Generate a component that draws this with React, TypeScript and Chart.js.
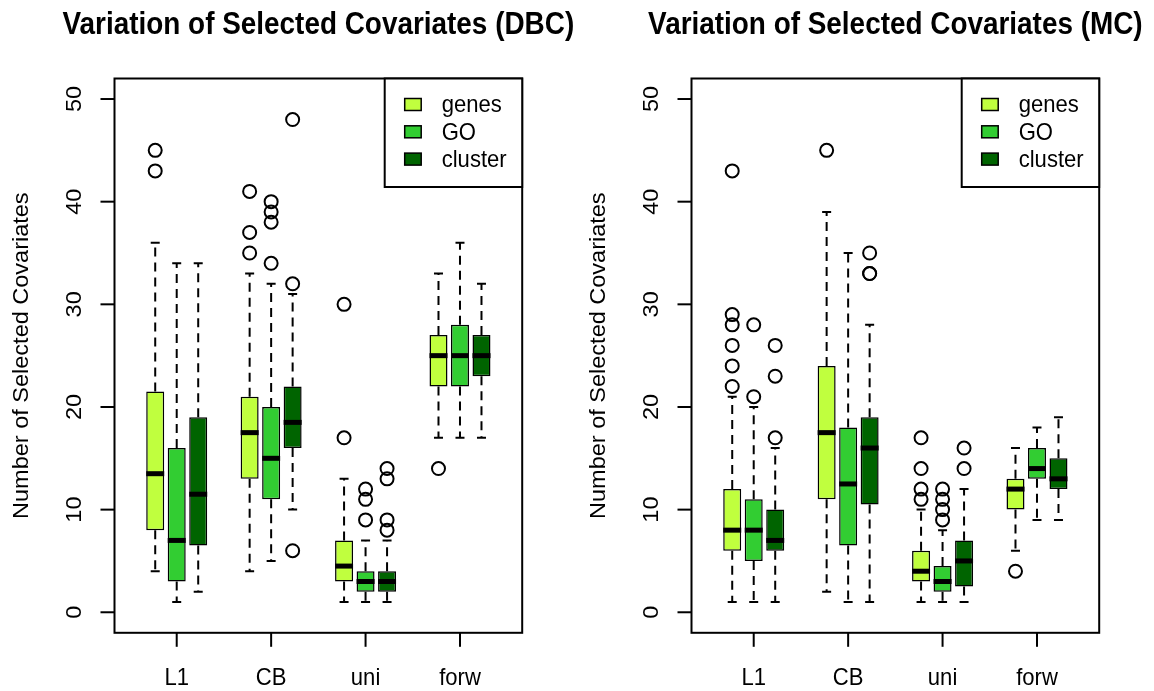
import React, { useEffect, useRef } from "react";
import { Chart, registerables } from "chart.js";

Chart.register(...registerables);

const categories = ["L1", "CB", "uni", "forw"];
const seriesNames = ["genes", "GO", "cluster"];
const seriesColors = ["#C0FF3E", "#32CD32", "#006400"];
const yTicks = [0, 10, 20, 30, 40, 50];

// Each entry: [lower whisker, Q1, median, Q3, upper whisker]
const dbcGenes = [[4, 8, 13.5, 21.5, 36], [4, 13, 17.5, 21, 33], [1, 3, 4.5, 7, 13], [17, 22, 25, 27, 33]];
const dbcGenesOut = [[43, 45], [35, 37, 41], [17, 30], [14]];
const dbcGO = [[1, 3, 7, 16, 34], [5, 11, 15, 20, 32], [1, 2, 3, 4, 7], [17, 22, 25, 28, 36]];
const dbcGOOut = [[], [34, 38, 39, 40], [9, 11, 12], []];
const dbcCluster = [[2, 6.5, 11.5, 19, 34], [10, 16, 18.5, 22, 31], [1, 2, 3, 4, 7], [17, 23, 25, 27, 32]];
const dbcClusterOut = [[], [6, 32, 48], [8, 9, 13, 14], []];

const mcGenes = [[1, 6, 8, 12, 21], [2, 11, 17.5, 24, 39], [1, 3, 4, 6, 10], [6, 10, 12, 13, 16]];
const mcGenesOut = [[22, 24, 26, 28, 29, 43], [45], [11, 12, 14, 17], [4]];
const mcGO = [[1, 5, 8, 11, 20], [1, 6.5, 12.5, 18, 35], [1, 2, 3, 4.5, 8], [9, 13, 14, 16, 18]];
const mcGOOut = [[21, 28], [], [9, 10, 11, 12], []];
const mcCluster = [[1, 6, 7, 10, 16], [1, 10.5, 16, 19, 28], [1, 2.5, 5, 7, 12], [9, 12, 13, 15, 19]];
const mcClusterOut = [[17, 23, 26], [33, 33, 35], [14, 16], []];

const FONT = "'Liberation Sans', Arial, Helvetica, sans-serif";
const W = 577;
const H = 691;
const SQ = 0.9; // horizontal squeeze of glyphs

function textH(ctx: any, t: string, x: number, y: number) {
  ctx.save();
  ctx.translate(x, y);
  ctx.scale(SQ, 1);
  ctx.fillText(t, 0, 0);
  ctx.restore();
}

function textV(ctx: any, t: string, x: number, y: number) {
  ctx.save();
  ctx.translate(x, y);
  ctx.rotate(-Math.PI / 2);
  ctx.scale(1, SQ);
  ctx.fillText(t, 0, 0);
  ctx.restore();
}

function makePlugin(title: string, stats: number[][][], outs: number[][][]) {
  return {
    id: "rbox",
    beforeDraw(chart: any) {
      const ctx = chart.ctx;
      ctx.save();
      ctx.fillStyle = "#fff";
      ctx.fillRect(0, 0, chart.width, chart.height);
      ctx.restore();
    },
    beforeDatasetsDraw(chart: any) {
      const ctx = chart.ctx;
      const y = chart.scales.y;
      ctx.save();
      stats.forEach((ser, di) => {
        const meta = chart.getDatasetMeta(di);
        meta.data.forEach((el: any, j: number) => {
          const s = ser[j];
          const x = el.x;
          const half = el.width / 4;
          ctx.strokeStyle = "#000";
          ctx.lineWidth = 2;
          ctx.setLineDash([9, 6]);
          ctx.beginPath();
          ctx.moveTo(x, y.getPixelForValue(s[3]));
          ctx.lineTo(x, y.getPixelForValue(s[4]));
          ctx.moveTo(x, y.getPixelForValue(s[1]));
          ctx.lineTo(x, y.getPixelForValue(s[0]));
          ctx.stroke();
          ctx.setLineDash([]);
          ctx.beginPath();
          ctx.moveTo(x - half, y.getPixelForValue(s[4]));
          ctx.lineTo(x + half, y.getPixelForValue(s[4]));
          ctx.moveTo(x - half, y.getPixelForValue(s[0]));
          ctx.lineTo(x + half, y.getPixelForValue(s[0]));
          ctx.stroke();
        });
      });
      ctx.restore();
    },
    afterDatasetsDraw(chart: any) {
      const ctx = chart.ctx;
      const y = chart.scales.y;
      ctx.save();
      stats.forEach((ser, di) => {
        const meta = chart.getDatasetMeta(di);
        meta.data.forEach((el: any, j: number) => {
          const s = ser[j];
          const x = el.x;
          const hw = el.width / 2;
          ctx.strokeStyle = "#000";
          ctx.lineWidth = 5;
          ctx.beginPath();
          const my = y.getPixelForValue(s[2]);
          ctx.moveTo(x - hw, my);
          ctx.lineTo(x + hw, my);
          ctx.stroke();
          ctx.lineWidth = 2;
          outs[di][j].forEach((v) => {
            ctx.beginPath();
            ctx.arc(x, y.getPixelForValue(v), 6.5, 0, Math.PI * 2);
            ctx.stroke();
          });
        });
      });
      ctx.restore();
    },
    afterDraw(chart: any) {
      const ctx = chart.ctx;
      const area = chart.chartArea;
      const x = chart.scales.x;
      const y = chart.scales.y;
      const left = area.left - 15;
      const right = area.right + 15;
      const top = area.top;
      const bottom = area.bottom;
      ctx.save();
      ctx.strokeStyle = "#000";
      ctx.fillStyle = "#000";
      ctx.lineWidth = 2;
      ctx.strokeRect(left, top, right - left, bottom - top);

      // y axis ticks and labels
      ctx.font = `23.5px ${FONT}`;
      ctx.textAlign = "center";
      ctx.textBaseline = "middle";
      yTicks.forEach((v) => {
        const py = y.getPixelForValue(v);
        ctx.beginPath();
        ctx.moveTo(left - 14, py);
        ctx.lineTo(left, py);
        ctx.stroke();
        textV(ctx, String(v), left - 39, py);
      });

      // x axis ticks and labels
      ctx.font = `24.5px ${FONT}`;
      categories.forEach((c, i) => {
        const px = x.getPixelForValue(i);
        ctx.beginPath();
        ctx.moveTo(px, bottom);
        ctx.lineTo(px, bottom + 14);
        ctx.stroke();
        textH(ctx, c, px, bottom + 45);
      });

      // y axis title
      ctx.font = `23.5px ${FONT}`;
      textV(ctx, "Number of Selected Covariates", 22, (top + bottom) / 2);

      // main title
      ctx.font = `bold 31px ${FONT}`;
      textH(ctx, title, (left + right) / 2, 25);

      // legend
      const lw = 137.5;
      const lh = 108.5;
      const lx = right - lw;
      ctx.fillStyle = "#fff";
      ctx.fillRect(lx, top, lw, lh);
      ctx.strokeRect(lx, top, lw, lh);
      ctx.font = `24.5px ${FONT}`;
      ctx.textAlign = "left";
      seriesNames.forEach((n, i) => {
        const cy = top + 26 + i * 27.3;
        ctx.fillStyle = seriesColors[i];
        ctx.fillRect(lx + 20, cy - 6, 16.5, 12);
        ctx.lineWidth = 1.5;
        ctx.strokeRect(lx + 20, cy - 6, 16.5, 12);
        ctx.fillStyle = "#000";
        textH(ctx, n, lx + 57, cy + 1);
      });
      ctx.restore();
    },
  };
}

function Panel(props: { title: string; stats: number[][][]; outs: number[][][] }) {
  const ref = useRef<HTMLCanvasElement>(null);
  useEffect(() => {
    const canvas = ref.current;
    if (!canvas) return;
    const chart = new Chart(canvas, {
      type: "bar",
      data: {
        labels: categories,
        datasets: seriesNames.map((n, i) => ({
          label: n,
          data: props.stats[i].map((s) => [s[1], s[3]]),
          backgroundColor: seriesColors[i],
          borderColor: "#000",
          borderWidth: 1.5,
          borderSkipped: false,
          categoryPercentage: 0.683,
          barPercentage: 0.837,
        })),
      },
      options: {
        responsive: false,
        animation: false,
        devicePixelRatio: 1,
        layout: { padding: { left: 129.5, right: 69.8, top: 78.5, bottom: 58.2 } },
        plugins: {
          legend: { display: false },
          title: { display: false },
          tooltip: { enabled: false },
        },
        scales: {
          x: { type: "category", display: false, offset: true },
          y: { type: "linear", display: false, min: -2, max: 52 },
        },
      } as any,
      plugins: [makePlugin(props.title, props.stats, props.outs)],
    } as any);
    return () => chart.destroy();
  }, []);
  return <canvas ref={ref} width={W} height={H} style={{ width: W, height: H, display: "block" }} />;
}

export default function App() {
  return (
    <div style={{ position: "absolute", left: 0, top: 0, width: 1154, height: 691, display: "flex", background: "#fff" }}>
      <Panel
        title="Variation of Selected Covariates (DBC)"
        stats={[dbcGenes, dbcGO, dbcCluster]}
        outs={[dbcGenesOut, dbcGOOut, dbcClusterOut]}
      />
      <Panel
        title="Variation of Selected Covariates (MC)"
        stats={[mcGenes, mcGO, mcCluster]}
        outs={[mcGenesOut, mcGOOut, mcClusterOut]}
      />
    </div>
  );
}
